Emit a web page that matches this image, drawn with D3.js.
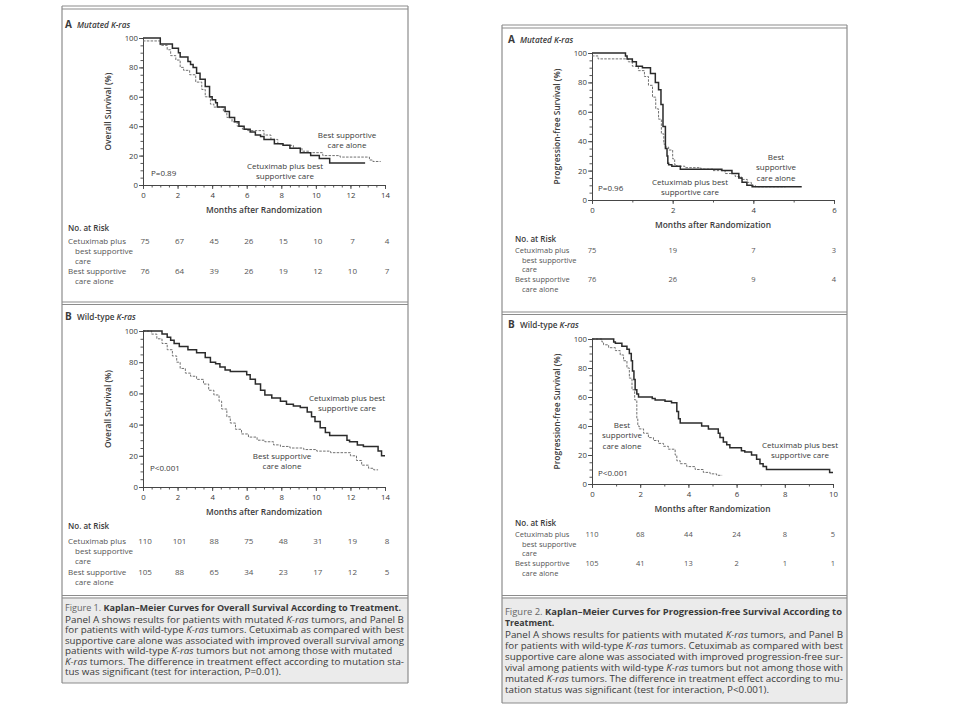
<!DOCTYPE html>
<html>
<head>
<meta charset="utf-8">
<script src="https://cdn.jsdelivr.net/npm/d3@7"></script>
<style>
  body { margin: 0; background: #fff; }
  svg { display: block; font-family: "Open Sans", sans-serif; }
</style>
</head>
<body>
<svg id="chart" width="960" height="720"></svg>
<script>
/* Kaplan-Meier curves, NEJM cetuximab K-ras figures 1 and 2 */

const SURV_TICKS = [0, 20, 40, 60, 80, 100];
const OS_MONTHS = [0, 2, 4, 6, 8, 10, 12, 14];
const PFS_MUT_MONTHS = [0, 2, 4, 6];
const PFS_WILD_MONTHS = [0, 2, 4, 6, 8, 10];

// [month, % surviving] step points
const osMutCetux = [[0,100],[1.0,96],[1.7,93],[2.05,90],[2.15,87],[2.6,84],[2.75,82],[2.9,80],[3.1,76],[3.3,72],[3.6,67],[3.85,60],[4.0,58],[4.2,56],[4.3,53],[4.75,50],[5.0,46],[5.3,43],[5.55,40],[5.85,38],[6.2,36],[6.5,34],[6.8,33],[7.0,31],[7.6,28],[8.1,27],[8.5,25],[9.1,22],[9.7,20],[10.2,18],[10.8,15],[12.85,15]];
const osMutBsc = [[0,98],[1.0,95],[1.4,92],[1.6,88],[1.9,85],[2.15,80],[2.35,78],[2.7,75],[3.05,70],[3.4,65],[3.6,60],[3.9,55],[4.1,53],[4.65,50],[4.85,46],[5.15,43],[5.45,40],[5.75,38],[6.05,37],[7.0,34],[7.4,31],[7.8,28],[8.1,27],[8.7,25],[9.2,23],[9.6,22],[10.4,20],[11.4,19],[13.1,17],[13.3,16],[13.75,16]];
const osWildCetux = [[0,100],[1.1,98],[1.4,96],[1.6,94],[1.8,92],[2.1,90],[2.6,88],[3.1,86],[3.6,83],[3.9,80],[4.2,79],[4.45,77],[4.75,75],[5.05,74],[6.0,72],[6.2,69],[6.5,66],[6.8,62],[7.05,59],[7.45,57],[7.95,55],[8.3,53],[8.7,52],[9.1,51],[9.5,48],[9.75,45],[9.95,42],[10.25,38],[10.55,35],[10.8,33],[11.8,30],[11.95,29],[12.4,27],[12.75,26],[13.6,23],[13.8,20],[14.0,20]];
const osWildBsc = [[0,100],[0.5,98],[0.8,95],[1.1,92],[1.4,88],[1.7,84],[1.95,80],[2.15,76],[2.45,73],[2.75,71],[3.1,69],[3.5,66],[3.8,62],[4.1,59],[4.4,55],[4.55,50],[4.85,45],[5.05,41],[5.35,37],[5.7,34],[6.1,32],[6.6,30],[7.05,29],[7.55,27],[7.95,26],[8.5,25],[9.3,24],[10.05,23],[10.85,22],[12.0,20],[12.35,17],[12.65,14],[13.05,12],[13.35,11],[13.6,11]];

const pfsMutCetux = [[0,100],[0.83,98],[0.87,96],[1.0,94],[1.1,91],[1.25,90],[1.45,86],[1.57,80],[1.65,75],[1.71,65],[1.76,50],[1.82,35],[1.86,30],[1.88,25],[1.9,24],[1.98,23],[2.19,21],[3.22,20],[3.47,18],[3.64,15],[3.72,12],[3.84,10],[3.97,9],[5.2,9]];
const pfsMutBsc = [[0,98],[0.15,96],[0.9,94],[1.0,91],[1.15,88],[1.3,84],[1.4,78],[1.5,70],[1.58,62],[1.65,55],[1.72,45],[1.78,38],[1.83,36],[1.9,34],[2.0,28],[2.05,24],[2.1,23],[2.3,22],[2.7,21],[3.0,20],[3.3,18],[3.55,16],[3.7,14],[3.85,12],[3.95,10],[4.05,9],[4.8,9]];
const pfsWildCetux = [[0,100],[0.9,98],[0.97,97],[1.24,95],[1.45,93],[1.55,90],[1.63,85],[1.68,78],[1.74,72],[1.79,65],[1.86,62],[1.93,60],[2.5,59],[2.62,58],[3.03,57],[3.3,56],[3.52,50],[3.59,45],[3.66,42],[4.55,40],[4.83,38],[5.24,35],[5.31,32],[5.45,29],[5.59,27],[5.72,25],[6.2,23],[6.34,22],[6.62,20],[6.83,17],[6.97,14],[7.1,12],[7.24,10],[9.86,8],[10.0,8]];
const pfsWildBsc = [[0,100],[0.41,98],[0.48,96],[0.69,94],[0.97,92],[1.17,89],[1.31,85],[1.45,80],[1.55,73],[1.66,65],[1.77,58],[1.86,45],[1.9,40],[1.96,38],[2.14,35],[2.34,32],[2.55,30],[2.76,28],[2.97,26],[3.17,24],[3.45,20],[3.52,16],[3.66,14],[3.93,12],[4.28,10],[4.62,8],[4.9,7],[5.17,6],[5.4,6]];

// number at risk, one value per major month tick
const osMutRiskCetux = [75, 67, 45, 26, 15, 10, 7, 4];
const osMutRiskBsc = [76, 64, 39, 26, 19, 12, 10, 7];
const osWildRiskCetux = [110, 101, 88, 75, 48, 31, 19, 8];
const osWildRiskBsc = [105, 88, 65, 34, 23, 17, 12, 5];
const pfsMutRiskCetux = [75, 19, 7, 3];
const pfsMutRiskBsc = [76, 26, 9, 4];
const pfsWildRiskCetux = [110, 68, 44, 24, 8, 5];
const pfsWildRiskBsc = [105, 41, 13, 2, 1, 1];

const CETUX_ROW = ["Cetuximab plus", "best supportive", "care"];
const BSC_ROW = ["Best supportive", "care alone"];

const fig1Caption = [
  "Panel A shows results for patients with mutated *K-ras* tumors, and Panel B",
  "for patients with wild-type *K-ras* tumors. Cetuximab as compared with best",
  "supportive care alone was associated with improved overall survival among",
  "patients with wild-type *K-ras* tumors but not among those with mutated",
  "*K-ras* tumors. The difference in treatment effect according to mutation sta-",
  "tus was significant (test for interaction, P=0.01).",
];
const fig2Caption = [
  "Panel A shows results for patients with mutated *K-ras* tumors, and Panel B",
  "for patients with wild-type *K-ras* tumors. Cetuximab as compared with best",
  "supportive care alone was associated with improved progression-free sur-",
  "vival among patients with wild-type *K-ras* tumors but not among those with",
  "mutated *K-ras* tumors. The difference in treatment effect according to mu-",
  "tation status was significant (test for interaction, P<0.001).",
];

const INK = "#3a3a3a";
const RULE = "#8c8c8c";

const svg = d3.select("#chart");
svg.append("rect").attr("width", 960).attr("height", 720).attr("fill", "#fff");

// writes "*...*" segments as italic tspans
function richText(sel, str) {
  str.split("*").forEach((part, i) => {
    if (!part) return;
    sel.append("tspan").attr("font-style", i % 2 ? "italic" : null).text(part);
  });
}

function hline(x1, x2, y, w) {
  svg.append("line").attr("x1", x1).attr("x2", x2).attr("y1", y).attr("y2", y)
    .attr("stroke", RULE).attr("stroke-width", w || 1);
}

function drawFrame(f) {
  svg.append("rect").attr("x", f.left).attr("y", f.capTop).attr("width", f.right - f.left)
    .attr("height", f.bottom - f.capTop).attr("fill", "#ebebeb");
  hline(f.left, f.right, f.top, 1.2);
  hline(f.left, f.right, f.top + 3, 1.2);
  hline(f.left, f.right, f.sep, 1.2);
  hline(f.left, f.right, f.sep + 2.5, 1);
  hline(f.left, f.right, f.capTop - 1.5, 1.2);
  hline(f.left, f.right, f.capTop + 1, 1);
  hline(f.left, f.right, f.bottom, 1.2);
  svg.append("line").attr("x1", f.left).attr("x2", f.left).attr("y1", f.top).attr("y2", f.bottom)
    .attr("stroke", RULE).attr("stroke-width", 1.2);
  svg.append("line").attr("x1", f.right).attr("x2", f.right).attr("y1", f.top).attr("y2", f.bottom)
    .attr("stroke", RULE).attr("stroke-width", 1.2);
}

function drawCaption(f, num, titleLines, body) {
  const t = svg.append("g").attr("fill", INK).attr("font-size", 8.8);
  titleLines.forEach((line, i) => {
    const tx = t.append("text").attr("x", f.textX).attr("y", f.capTitleY + i * f.capStep)
      .attr("font-weight", 700);
    if (i === 0) {
      tx.append("tspan").attr("font-weight", 400).attr("fill", "#666").text(`Figure ${num}. `);
    }
    tx.append("tspan").text(line);
    if (f.titleFit && i === 0) tx.attr("textLength", f.titleFit).attr("lengthAdjust", "spacingAndGlyphs");
  });
  const y0 = f.capTitleY + titleLines.length * f.capStep + 1.5;
  const rows = body.map((line, i) => {
    const tx = t.append("text").attr("x", f.textX).attr("y", y0 + i * f.capStep);
    richText(tx, line);
    return tx;
  });
  // widen lines by the factor that makes the first line span the box, never past its edge
  const k = f.bodyWidth / rows[0].node().getComputedTextLength();
  rows.forEach(tx => {
    const w = tx.node().getComputedTextLength();
    tx.attr("textLength", Math.min(w * k, f.bodyWidth)).attr("lengthAdjust", "spacingAndGlyphs");
  });
}

function drawPanel(p) {
  const x = d3.scaleLinear().domain([0, p.xMax]).range([p.x0, p.x1]);
  const y = d3.scaleLinear().domain([0, 100]).range([p.yBot, p.yTop]);
  const g = svg.append("g");

  // panel heading
  const head = g.append("text").attr("x", p.headX).attr("y", p.headY).attr("fill", INK)
    .attr("font-size", 8.6).attr("font-weight", 700);
  head.append("tspan").attr("font-size", 10).text(p.letter);
  const nm = g.append("text").attr("x", p.headX + 12).attr("y", p.headY).attr("fill", INK)
    .attr("font-size", 8.2).attr("font-weight", 600);
  nm.append("tspan").attr("font-style", p.italicName ? "italic" : null).text(p.name + " ");
  nm.append("tspan").attr("font-style", "italic").text("K-ras");

  // minor ticks
  const minorX = d3.range(0, p.xMax + 1e-6, p.xMinor);
  g.append("g").attr("transform", `translate(0,${p.yBot})`)
    .call(d3.axisBottom(x).tickValues(minorX).tickFormat("").tickSize(2.5).tickSizeOuter(0));
  g.append("g").attr("transform", `translate(${p.x0},0)`)
    .call(d3.axisLeft(y).tickValues(d3.range(0, 101, 5)).tickFormat("").tickSize(2.5).tickSizeOuter(0));

  // major axes
  const xa = g.append("g").attr("transform", `translate(0,${p.yBot})`)
    .call(d3.axisBottom(x).tickValues(p.xTicks).tickFormat(d3.format("d"))
      .tickSize(4).tickPadding(3).tickSizeOuter(0));
  const ya = g.append("g").attr("transform", `translate(${p.x0},0)`)
    .call(d3.axisLeft(y).tickValues(SURV_TICKS).tickFormat(d3.format("d"))
      .tickSize(4).tickPadding(1).tickSizeOuter(0));
  g.selectAll(".domain, .tick line").attr("stroke", "#444").attr("stroke-width", 0.9);
  [xa, ya].forEach(a => a.selectAll("text").attr("fill", INK).attr("font-size", 7.8)
    .attr("font-family", "'Open Sans', sans-serif"));

  // axis titles
  g.append("text").attr("x", (p.x0 + p.x1) / 2).attr("y", p.yBot + 28).attr("text-anchor", "middle")
    .attr("fill", INK).attr("font-size", 8.4).attr("font-weight", 600).text("Months after Randomization");
  g.append("text").attr("transform", `translate(${p.yLabelX},${(p.yTop + p.yBot) / 2}) rotate(-90)`)
    .attr("text-anchor", "middle").attr("dy", "0.35em").attr("fill", INK).attr("font-size", 8.4)
    .attr("font-weight", 600).text(p.yLabel);

  // curves
  const line = d3.line().x(d => x(d[0])).y(d => y(d[1])).curve(d3.curveStepAfter);
  g.append("path").datum(p.bsc).attr("d", line).attr("fill", "none")
    .attr("stroke", "#707070").attr("stroke-width", 1).attr("stroke-dasharray", "2.5,1.3");
  g.append("path").datum(p.cetux).attr("d", line).attr("fill", "none")
    .attr("stroke", "#2b2b2b").attr("stroke-width", 1.5);

  // in-plot labels
  p.notes.forEach(n => {
    const t = g.append("text").attr("x", n.x).attr("y", n.y).attr("fill", INK).attr("font-size", 8)
      .attr("text-anchor", n.anchor || "middle");
    n.lines.forEach((s, i) => t.append("tspan").attr("x", n.x).attr("dy", i ? 10.5 : "0.35em").text(s));
  });

  // number at risk
  const rk = svg.append("g").attr("fill", INK).attr("font-size", p.riskFont);
  rk.append("text").attr("x", p.riskX).attr("y", p.riskHeadY).attr("font-weight", 600)
    .attr("font-size", 8).text("No. at Risk");
  [[CETUX_ROW, p.riskC, p.rowY[0]], [BSC_ROW, p.riskB, p.rowY[1]]].forEach(([labels, vals, ry]) => {
    labels.forEach((s, i) => rk.append("text").attr("x", p.riskX + (i ? 7 : 0))
      .attr("y", ry + i * p.rowStep).attr("fill", "#555").text(s));
    rk.selectAll(null).data(vals).join("text")
      .attr("x", (d, i) => x(p.xTicks[i]) + p.numShift).attr("y", ry)
      .attr("text-anchor", "middle").attr("fill", "#555").text(d => d);
  });
}

// Figure 1 – overall survival
const fig1 = { left: 62, right: 408, top: 6, sep: 302, capTop: 597, bottom: 683,
  textX: 65, capTitleY: 611, capStep: 10.4, titleFit: 336, bodyWidth: 339 };
drawFrame(fig1);
drawPanel({
  letter: "A", name: "Mutated", italicName: true, headX: 65, headY: 28,
  x0: 143, x1: 385, yTop: 38, yBot: 185, xMax: 14, xTicks: OS_MONTHS, xMinor: 0.5,
  yLabel: "Overall Survival (%)", yLabelX: 108,
  cetux: osMutCetux, bsc: osMutBsc,
  notes: [
    { x: 347, y: 135, lines: ["Best supportive", "care alone"] },
    { x: 285, y: 166, lines: ["Cetuximab plus best", "supportive care"] },
    { x: 151, y: 173, lines: ["P=0.89"], anchor: "start" },
  ],
  riskX: 68, riskHeadY: 231, rowY: [244, 274], rowStep: 10, numShift: 2, riskFont: 8,
  riskC: osMutRiskCetux, riskB: osMutRiskBsc,
});
drawPanel({
  letter: "B", name: "Wild-type", italicName: false, headX: 65, headY: 320,
  x0: 143, x1: 385, yTop: 331, yBot: 487, xMax: 14, xTicks: OS_MONTHS, xMinor: 0.5,
  yLabel: "Overall Survival (%)", yLabelX: 108,
  cetux: osWildCetux, bsc: osWildBsc,
  notes: [
    { x: 347, y: 398, lines: ["Cetuximab plus best", "supportive care"] },
    { x: 282, y: 456, lines: ["Best supportive", "care alone"] },
    { x: 150, y: 468, lines: ["P<0.001"], anchor: "start" },
  ],
  riskX: 68, riskHeadY: 529, rowY: [544, 575], rowStep: 10, numShift: 2, riskFont: 8,
  riskC: osWildRiskCetux, riskB: osWildRiskBsc,
});
drawCaption(fig1, 1, ["Kaplan\u2013Meier Curves for Overall Survival According to Treatment."], fig1Caption);

// Figure 2 – progression-free survival
const fig2 = { left: 502, right: 847, top: 25, sep: 312, capTop: 597, bottom: 703,
  textX: 505, capTitleY: 615, capStep: 10.9, titleFit: 337, bodyWidth: 338 };
drawFrame(fig2);
drawPanel({
  letter: "A", name: "Mutated", italicName: true, headX: 508, headY: 43,
  x0: 592, x1: 834, yTop: 53, yBot: 200, xMax: 6, xTicks: PFS_MUT_MONTHS, xMinor: 1,
  yLabel: "Progression-free Survival (%)", yLabelX: 557,
  cetux: pfsMutCetux, bsc: pfsMutBsc,
  notes: [
    { x: 776, y: 157, lines: ["Best", "supportive", "care alone"] },
    { x: 690, y: 182, lines: ["Cetuximab plus best", "supportive care"] },
    { x: 598, y: 188, lines: ["P=0.96"], anchor: "start" },
  ],
  riskX: 515, riskHeadY: 242, rowY: [253, 282], rowStep: 9.5, numShift: 0, riskFont: 7.5,
  riskC: pfsMutRiskCetux, riskB: pfsMutRiskBsc,
});
drawPanel({
  letter: "B", name: "Wild-type", italicName: false, headX: 508, headY: 328,
  x0: 592, x1: 833, yTop: 339, yBot: 484, xMax: 10, xTicks: PFS_WILD_MONTHS, xMinor: 1,
  yLabel: "Progression-free Survival (%)", yLabelX: 557,
  cetux: pfsWildCetux, bsc: pfsWildBsc,
  notes: [
    { x: 622, y: 425, lines: ["Best", "supportive", "care alone"] },
    { x: 800, y: 445, lines: ["Cetuximab plus best", "supportive care"] },
    { x: 598, y: 473, lines: ["P<0.001"], anchor: "start" },
  ],
  riskX: 515, riskHeadY: 526, rowY: [537, 566], rowStep: 9.5, numShift: 0, riskFont: 7.5,
  riskC: pfsWildRiskCetux, riskB: pfsWildRiskBsc,
});
drawCaption(fig2, 2, ["Kaplan\u2013Meier Curves for Progression-free Survival According to", "Treatment."], fig2Caption);
</script>
</body>
</html>
